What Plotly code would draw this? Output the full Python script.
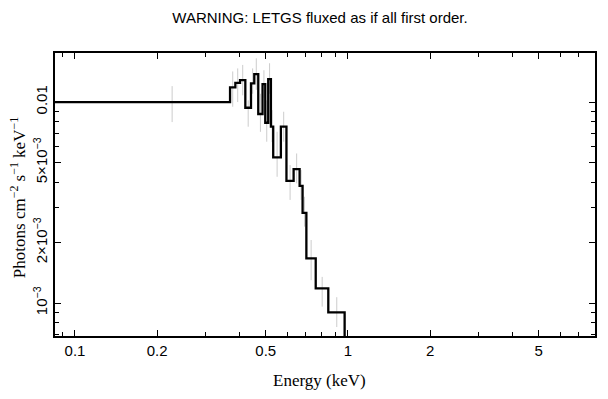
import plotly.graph_objects as go
import numpy as np

# Bin edges (keV) of the binned spectrum
bin_edges = [0.084, 0.3700, 0.3869, 0.4025, 0.4209, 0.4415, 0.4539, 0.4694, 0.4867,
             0.4979, 0.5105, 0.5223, 0.5325, 0.5681, 0.5954, 0.6325, 0.6653, 0.6822,
             0.7044, 0.7622, 0.8475, 0.9727]
# Flux per bin (photons cm^-2 s^-1 keV^-1)
flux = [0.0100, 0.01184, 0.01247, 0.01287, 0.00937, 0.01239, 0.01378, 0.00872,
        0.01229, 0.00789, 0.01301, 0.00754, 0.00531, 0.00754, 0.00405, 0.00464,
        0.00383, 0.00281, 0.001668, 0.001183, 0.000899]
flux_hi = [0.0120, 0.0142, 0.0147, 0.0153, 0.0102, 0.0147, 0.0165, 0.0110, 0.0144,
           0.0102, 0.0156, 0.00912, 0.00712, 0.00895, 0.00486, 0.00555, 0.00459,
           0.00338, 0.00206, 0.00135, 0.00107]
flux_lo = [0.00795, 0.00948, 0.0100, 0.0108, 0.00754, 0.0110, 0.0115, 0.00711,
           0.0105, 0.00635, 0.0110, 0.00632, 0.00425, 0.00635, 0.00326, 0.00394,
           0.00326, 0.00240, 0.00130, 0.00096, 0.00076]
# flux after the last bin falls below the plotted range
tail_flux = 1e-6

x_tick_vals = [0.1, 0.2, 0.5, 1, 2, 5]
x_tick_text = ["0.1", "0.2", "0.5", "1", "2", "5"]
x_minor_vals = [0.09, 0.3, 0.4, 0.6, 0.7, 0.8, 0.9, 3, 4, 6, 7, 8]
y_tick_vals = [0.001, 0.002, 0.005, 0.01]
y_tick_text = ["10<sup>−3</sup>", "2×10<sup>−3</sup>", "5×10<sup>−3</sup>", "0.01"]
y_minor_vals = [0.0007, 0.0008, 0.0009, 0.003, 0.004, 0.006, 0.007, 0.008, 0.009]

edges = np.array(bin_edges)
centers = (edges[:-1] + edges[1:]) / 2
f = np.array(flux)

step_x = list(edges) + [edges[-1]]
step_y = list(f) + [f[-1], tail_flux]

fig = go.Figure()
fig.add_trace(go.Scatter(
    x=centers, y=f, mode="markers",
    marker=dict(size=1, color="rgba(0,0,0,0)"),
    error_y=dict(type="data", symmetric=False,
                 array=np.array(flux_hi) - f, arrayminus=f - np.array(flux_lo),
                 color="#cccccc", thickness=1, width=0),
    hoverinfo="skip", showlegend=False))
fig.add_trace(go.Scatter(
    x=step_x, y=step_y, mode="lines", line=dict(shape="hv", color="black", width=2.3),
    showlegend=False))

sans = "Liberation Sans, Arial, sans-serif"
serif = "Liberation Serif, Times New Roman, serif"

# the page body adds an 8px margin; figure is sized so it fits the window
OFF = 8
W, H = 608 - 2 * OFF, 399 - 2 * OFF

fig.update_layout(
    width=W, height=H, autosize=False,
    margin=dict(l=55 - OFF, r=W - (597 - OFF), t=53 - OFF, b=H - (336 - OFF)),
    paper_bgcolor="white", plot_bgcolor="white",
    title=dict(text="WARNING: LETGS fluxed as if all first order.",
               x=(320 - OFF) / W, xanchor="center", y=1 - (18 - OFF) / H, yanchor="middle",
               font=dict(family=sans, size=15, color="black")),
    xaxis=dict(type="log", range=[np.log10(0.0845), np.log10(8.04)],
               tickvals=x_tick_vals, ticktext=x_tick_text,
               ticks="inside", ticklen=6, tickcolor="black", tickwidth=1,
               minor=dict(tickvals=x_minor_vals, ticks="inside", ticklen=4,
                          tickcolor="black", tickwidth=1, showgrid=False),
               showline=True, linecolor="black", linewidth=1.5, mirror="ticks",
               showgrid=False, zeroline=False,
               tickfont=dict(family=sans, size=15, color="black")),
    yaxis=dict(type="log", range=[np.log10(6.86e-4), np.log10(0.01754)],
               tickvals=y_tick_vals, ticktext=y_tick_text, tickangle=-90,
               ticks="inside", ticklen=6, tickcolor="black", tickwidth=1,
               minor=dict(tickvals=y_minor_vals, ticks="inside", ticklen=4,
                          tickcolor="black", tickwidth=1, showgrid=False),
               showline=True, linecolor="black", linewidth=1.5, mirror="ticks",
               showgrid=False, zeroline=False,
               tickfont=dict(family=sans, size=15, color="black")),
    annotations=[
        dict(text="Energy (keV)", xref="paper", yref="paper",
             x=(320 - 55) / 542, y=(336 - 380) / 283, xanchor="center", yanchor="middle",
             showarrow=False, font=dict(family=serif, size=17, color="black")),
        dict(text="Photons cm<sup>−2</sup> s<sup>−1</sup> keV<sup>−1</sup>",
             xref="paper", yref="paper", x=(18 - 55) / 542, y=(336 - 198) / 283,
             textangle=-90, xanchor="center", yanchor="middle", showarrow=False,
             font=dict(family=serif, size=17, color="black")),
    ],
)

fig.write_html("out.html")
